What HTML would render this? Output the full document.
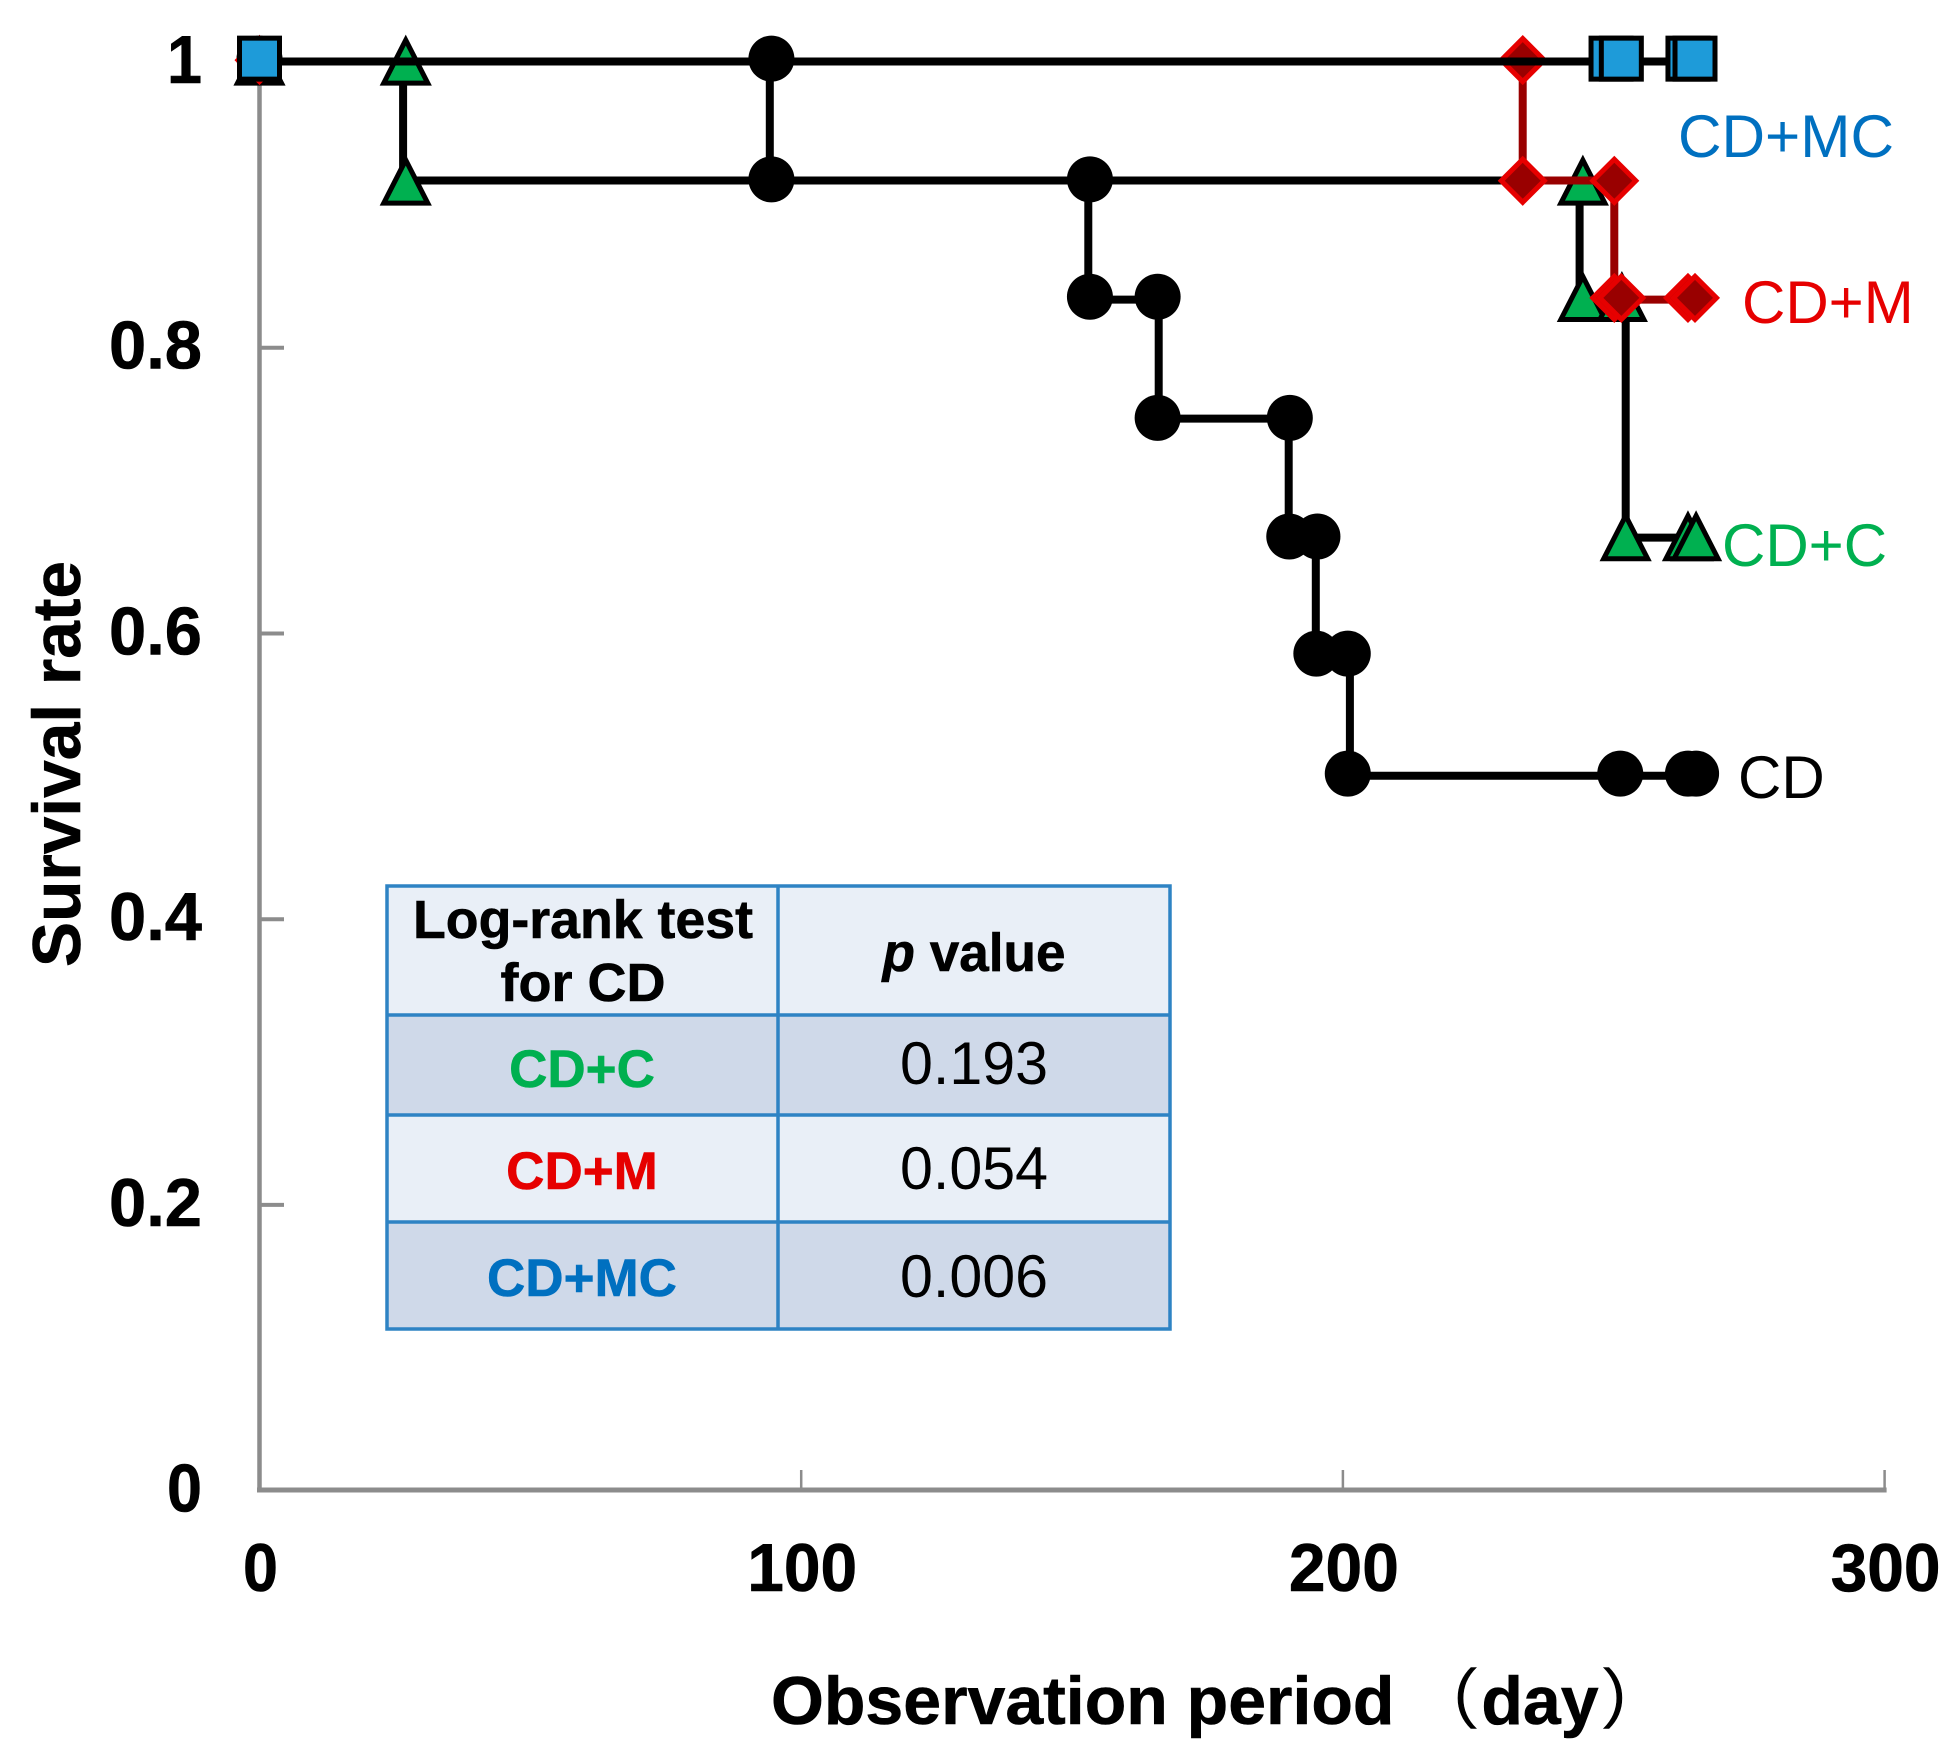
<!DOCTYPE html>
<html lang="en">
<head>
<meta charset="utf-8">
<title>Survival rate chart</title>
<style>
  html, body { margin: 0; padding: 0; background: #fff; }
  svg { display: block; }
  text { font-family: "Liberation Sans", "Noto Sans CJK JP", sans-serif; fill: #000; }
  .b { font-weight: bold; }
  .heavy { stroke: #000; stroke-width: 0.6; }
</style>
</head>
<body>
<svg id="chart" xmlns="http://www.w3.org/2000/svg" width="1954" height="1757" viewBox="0 0 1954 1757">
  <rect x="0" y="0" width="1954" height="1757" fill="#fff"/>
  <g id="axes"></g>
  <g id="series"></g>

  <text class="b heavy" font-size="68" transform="translate(80 967) rotate(-90)" textLength="406" lengthAdjust="spacingAndGlyphs">Survival rate</text>
  <text class="b heavy" font-size="68" x="771" y="1724">Observation period <tspan font-family="'IPAGothic', 'Noto Sans CJK JP', sans-serif" font-weight="normal" dx="0">（</tspan>day<tspan font-family="'IPAGothic', 'Noto Sans CJK JP', sans-serif" font-weight="normal">）</tspan></text>

  <text font-size="60" x="1678" y="157" textLength="216" lengthAdjust="spacingAndGlyphs" style="fill:#0070C0">CD+MC</text>
  <text font-size="60" x="1742" y="323" style="fill:#E60000">CD+M</text>
  <text font-size="60" x="1722" y="566" style="fill:#00B050">CD+C</text>
  <text font-size="60" x="1738" y="798">CD</text>

  <g>
    <rect x="387" y="886" width="783" height="129" fill="#E9EFF7"/>
    <rect x="387" y="1015" width="783" height="100" fill="#CFD9E9"/>
    <rect x="387" y="1115" width="783" height="107" fill="#E9EFF7"/>
    <rect x="387" y="1222" width="783" height="107" fill="#CFD9E9"/>
    <g stroke="#2E83C4" stroke-width="3.5" fill="none">
      <rect x="387" y="886" width="783" height="443"/>
      <line x1="778" y1="886" x2="778" y2="1329"/>
      <line x1="387" y1="1015" x2="1170" y2="1015"/>
      <line x1="387" y1="1115" x2="1170" y2="1115"/>
      <line x1="387" y1="1222" x2="1170" y2="1222"/>
    </g>
    <text class="b heavy" font-size="54" x="583" y="938" text-anchor="middle" textLength="340" lengthAdjust="spacingAndGlyphs">Log-rank test</text>
    <text class="b heavy" font-size="54" x="583" y="1001" text-anchor="middle">for CD</text>
    <text class="b heavy" font-size="54" x="974" y="971" text-anchor="middle" textLength="183" lengthAdjust="spacingAndGlyphs"><tspan font-style="italic">p</tspan> value</text>
    <text class="b" font-size="53" x="582" y="1087" text-anchor="middle" style="fill:#00B050;stroke:#00B050;stroke-width:0.6">CD+C</text>
    <text class="b" font-size="53" x="582" y="1189" text-anchor="middle" style="fill:#E60000;stroke:#E60000;stroke-width:0.6">CD+M</text>
    <text class="b" font-size="53" x="582" y="1296" text-anchor="middle" style="fill:#0070C0;stroke:#0070C0;stroke-width:0.6">CD+MC</text>
    <text font-size="60" x="974" y="1084" text-anchor="middle" textLength="148" lengthAdjust="spacingAndGlyphs">0.193</text>
    <text font-size="60" x="974" y="1189" text-anchor="middle" textLength="148" lengthAdjust="spacingAndGlyphs">0.054</text>
    <text font-size="60" x="974" y="1297" text-anchor="middle" textLength="148" lengthAdjust="spacingAndGlyphs">0.006</text>
  </g>
</svg>

<script>
// Tick labels
const xTicks = [0, 100, 200, 300];
const yTicks = [0, 0.2, 0.4, 0.6, 0.8, 1];

// CD (circles)
const cdDays = [0, 94.2, 94.2, 153, 153, 166, 166, 190, 190, 195, 195, 201.3, 201.3, 265];
const cdSurv = [1, 1, 0.9167, 0.9167, 0.8333, 0.8333, 0.75, 0.75, 0.6667, 0.6667, 0.5833, 0.5833, 0.5, 0.5];
const cdMarkerDays = [0, 94.5, 94.5, 153.3, 153.3, 165.8, 165.8, 190.2, 190.1, 195.3, 195.1, 200.9, 200.9, 251.2, 263.7, 265.2];
const cdMarkerSurv = [1.002, 1.002, 0.9175, 0.9175, 0.8353, 0.8353, 0.7505, 0.7505, 0.6675, 0.6675, 0.5855, 0.5855, 0.5015, 0.5015, 0.5015, 0.5015];

// CD+C (triangles)
const cDays = [0, 26.5, 26.5, 243.7, 243.7, 252.2, 252.2, 265];
const cSurv = [1, 1, 0.9167, 0.9167, 0.8333, 0.8333, 0.6667, 0.6667];
const cMarkerDays = [0, 27, 27, 244.3, 244.3, 251.5, 252.2, 263.7, 265.2];
const cMarkerSurv = [1.001, 1.001, 0.917, 0.917, 0.8355, 0.8355, 0.668, 0.668, 0.668];

// CD+M (diamonds)
const mDays = [0, 233.2, 233.2, 250.1, 250.1, 265];
const mSurv = [1, 1, 0.9167, 0.9167, 0.8333, 0.8333];
const mMarkerDays = [0, 233.2, 233.2, 250.1, 250.1, 251.4, 263.7, 265];
const mMarkerSurv = [1.001, 1.001, 0.9165, 0.9165, 0.8345, 0.8345, 0.8345, 0.8345];

// CD+MC (squares)
const mcDays = [0, 265];
const mcSurv = [1, 1];
const mcMarkerDays = [0, 249.5, 251.4, 263.7, 265];
const mcMarkerSurv = [1.002, 1.002, 1.002, 1.002, 1.002];

const NS = 'http://www.w3.org/2000/svg';
const xScale = d => 259.5 + d * 5.417;
const yScale = v => 1490 - v * 1428.5;

const axesGroup = document.getElementById('axes');
const seriesGroup = document.getElementById('series');

function make(tag, attrs, parent) {
  const el = document.createElementNS(NS, tag);
  for (const k in attrs) el.setAttribute(k, attrs[k]);
  parent.appendChild(el);
  return el;
}

const AXIS = '#8C8C8C';

const yAxis = make('line', {x1: 259.5, y1: yScale(1), x2: 259.5, y2: 1492, stroke: AXIS, 'stroke-width': 4.5}, axesGroup);



const xAxis = make('line', {x1: 257, y1: 1490, x2: xScale(300) + 2, y2: 1490, stroke: AXIS, 'stroke-width': 5}, axesGroup);



xTicks.forEach(t => {
  if (t > 0) {
    const tick = make('line', {x1: xScale(t), y1: 1470, x2: xScale(t), y2: 1490, stroke: AXIS, 'stroke-width': 2.5}, axesGroup);
    
    
  }
  const label = make('text', {x: xScale(t) + 1, y: 1591, 'font-size': 68, 'font-weight': 'bold', 'text-anchor': 'middle', class: 'heavy'}, axesGroup);
  label.textContent = String(t);
  label.setAttribute('textLength', t > 0 ? 110 : 35);
  label.setAttribute('lengthAdjust', 'spacingAndGlyphs');
  
  
});

yTicks.forEach(t => {
  if (t > 0 && t < 1) {
    const tick = make('line', {x1: 259.5, y1: yScale(t) + 0.6, x2: 284, y2: yScale(t) + 0.6, stroke: AXIS, 'stroke-width': 4}, axesGroup);
    
    
  }
  const label = make('text', {x: 202, y: yScale(t) + 21.5, 'font-size': 68, 'font-weight': 'bold', 'text-anchor': 'end', class: 'heavy'}, axesGroup);
  label.textContent = String(t);
  label.setAttribute('textLength', t > 0 && t < 1 ? 93 : 35);
  label.setAttribute('lengthAdjust', 'spacingAndGlyphs');
  
  
});

function drawLine(days, surv, color, name) {
  const pts = days.map((d, i) => xScale(d).toFixed(1) + ',' + yScale(surv[i]).toFixed(1)).join(' ');
  const el = make('polyline', {points: pts, fill: 'none', stroke: color, 'stroke-width': 8, 'stroke-linejoin': 'miter'}, seriesGroup);
  
  
}

function drawCircles(days, surv, name) {
  days.forEach((d, i) => {
    const el = make('circle', {cx: xScale(d), cy: yScale(surv[i]), r: 23, fill: '#000'}, seriesGroup);
    
    
  });
}

function drawTriangles(days, surv, name) {
  days.forEach((d, i) => {
    const x = xScale(d), y = yScale(surv[i]);
    const el = make('polygon', {
      points: [[x, y - 20], [x - 22, y + 23], [x + 22, y + 23]].map(p => p.join(',')).join(' '),
      fill: '#00B050', stroke: '#000', 'stroke-width': 5, 'stroke-linejoin': 'miter', 'stroke-miterlimit': 6
    }, seriesGroup);
    
    
  });
}

function drawDiamonds(days, surv, name) {
  days.forEach((d, i) => {
    const x = xScale(d), y = yScale(surv[i]);
    const el = make('polygon', {
      points: [[x, y - 21.5], [x + 21.5, y], [x, y + 21.5], [x - 21.5, y]].map(p => p.join(',')).join(' '),
      fill: '#990000', stroke: '#E60000', 'stroke-width': 5
    }, seriesGroup);
    
    
  });
}

function drawSquares(days, surv, name) {
  days.forEach((d, i) => {
    const x = xScale(d), y = yScale(surv[i]);
    const el = make('rect', {
      x: x - 20, y: y - 20.5, width: 40, height: 41,
      fill: '#1E9BD9', stroke: '#000', 'stroke-width': 5
    }, seriesGroup);
    
    
  });
}

drawLine(cdDays, cdSurv, '#000', 'cd');
drawCircles(cdMarkerDays, cdMarkerSurv, 'cd');
drawLine(cDays, cSurv, '#000', 'cd-c');
drawTriangles(cMarkerDays, cMarkerSurv, 'cd-c');
drawLine(mDays, mSurv, '#990000', 'cd-m');
drawDiamonds(mMarkerDays, mMarkerSurv, 'cd-m');
drawLine(mcDays, mcSurv, '#000', 'cd-mc');
drawSquares(mcMarkerDays, mcMarkerSurv, 'cd-mc');
</script>
</body>
</html>
